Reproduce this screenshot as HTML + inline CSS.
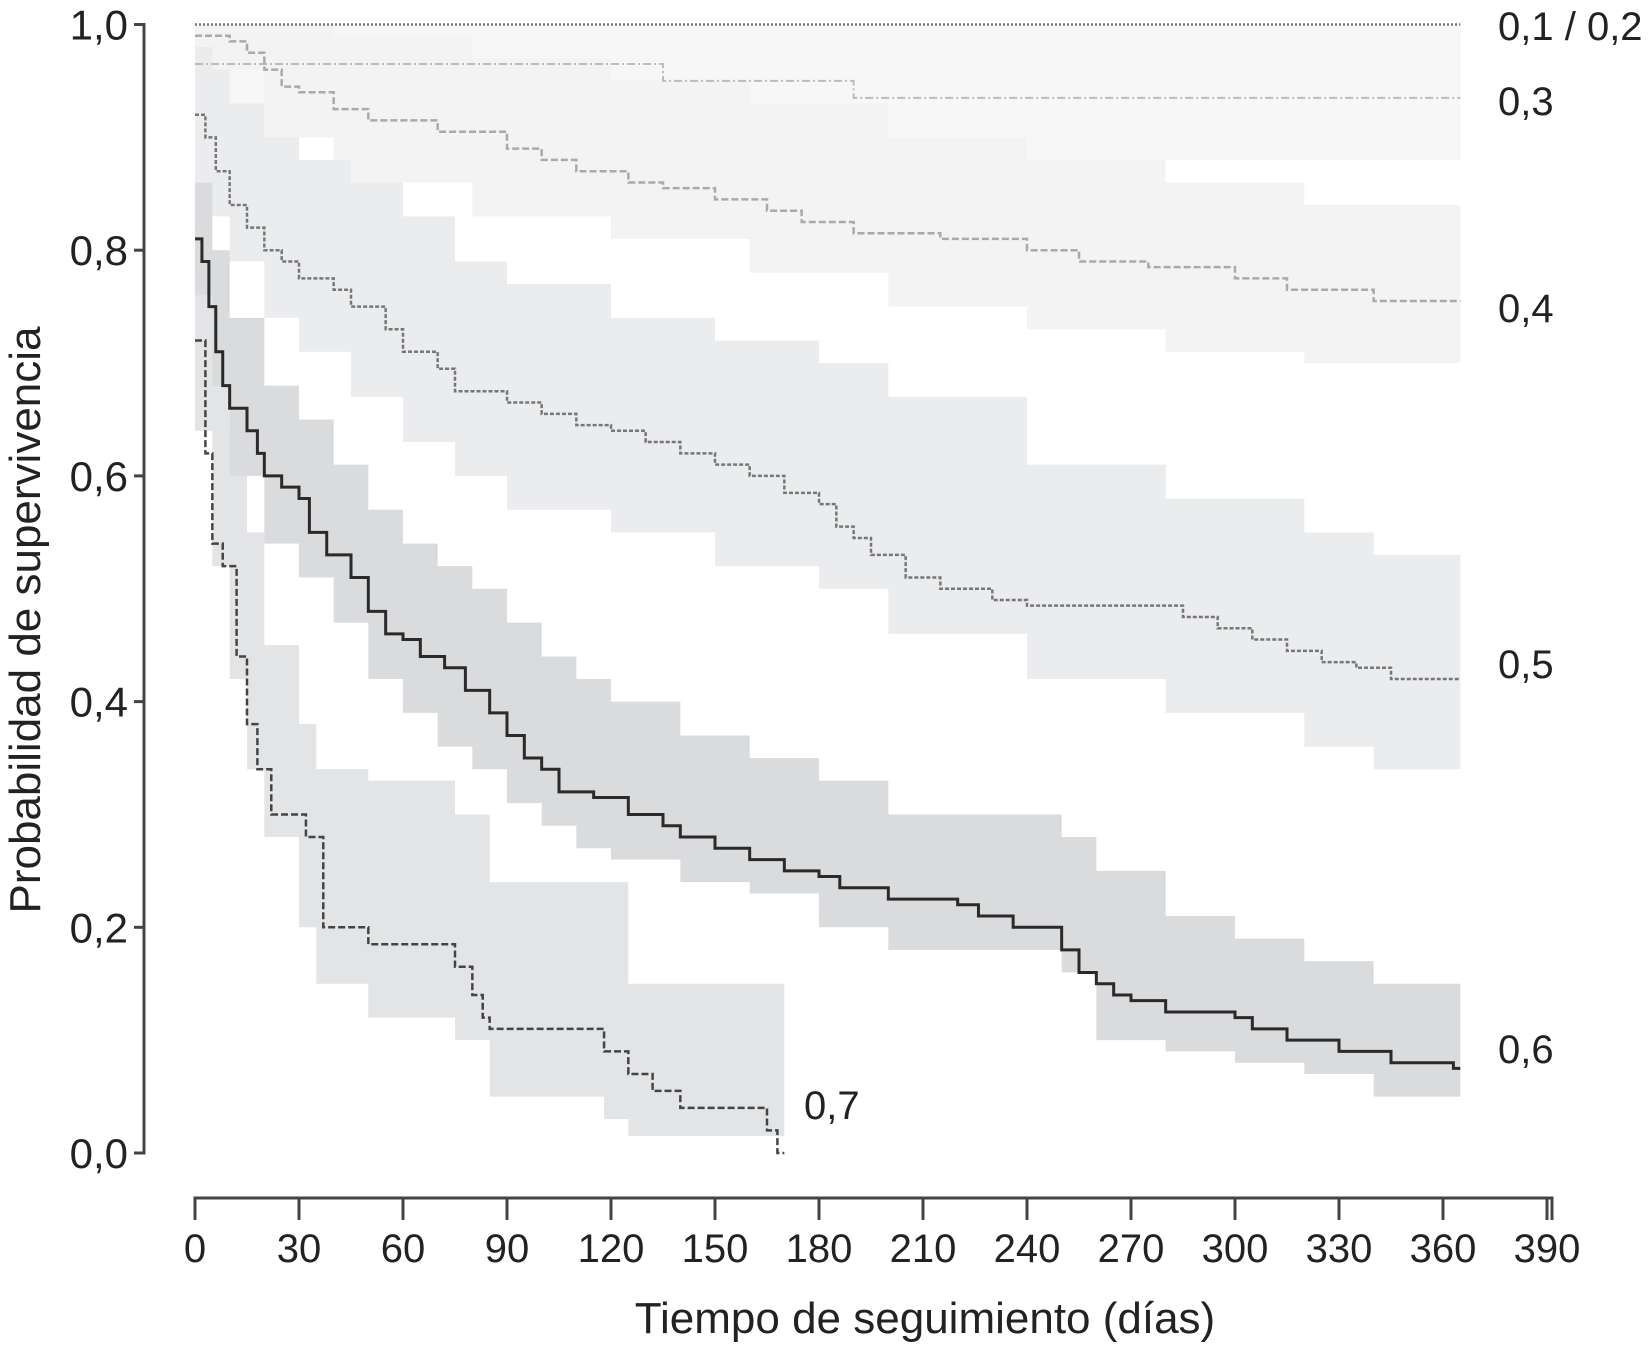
<!DOCTYPE html>
<html><head><meta charset="utf-8"><style>
body{margin:0;background:#fff}
svg{display:block;font-family:"Liberation Sans",sans-serif}
</style></head><body>
<svg id="c" width="1649" height="1349" xmlns="http://www.w3.org/2000/svg"></svg>
<script>
// ---- data ----
const xTicks=[0,30,60,90,120,150,180,210,240,270,300,330,360,390];
const yTicks=[0,0.2,0.4,0.6,0.8,1.0];
const yTickLabels=["0,0","0,2","0,4","0,6","0,8","1,0"];
const t06=[0,2,4,6,8,10,15,18,20,25,30,33,38,45,50,55,60,65,72,78,85,90,95,100,105,115,125,135,140,150,160,170,180,186,200,220,226,236,250,255,260,265,270,280,300,305,315,330,345,363];
const s06=[0.81,0.79,0.75,0.71,0.68,0.66,0.64,0.62,0.60,0.59,0.58,0.55,0.53,0.51,0.48,0.46,0.455,0.44,0.43,0.41,0.39,0.37,0.35,0.34,0.32,0.315,0.30,0.29,0.28,0.27,0.26,0.25,0.245,0.235,0.225,0.22,0.21,0.20,0.18,0.16,0.15,0.14,0.135,0.125,0.12,0.11,0.10,0.09,0.08,0.075];
const bt06=[0,5,10,20,30,40,50,60,70,80,90,100,110,120,140,160,180,200,250,260,280,300,320,340,365];
const up06=[0.86,0.80,0.74,0.68,0.65,0.61,0.57,0.54,0.52,0.50,0.47,0.44,0.42,0.40,0.37,0.35,0.33,0.30,0.28,0.25,0.21,0.19,0.17,0.15,0.145];
const lo06=[0.76,0.68,0.60,0.54,0.51,0.47,0.42,0.39,0.36,0.34,0.31,0.29,0.27,0.26,0.24,0.23,0.20,0.18,0.16,0.10,0.09,0.08,0.07,0.05,0.04];
const t07=[0,3,5,8,12,15,18,22,32,37,50,75,80,83,85,118,125,132,140,165,168];
const s07=[0.72,0.62,0.54,0.52,0.44,0.38,0.34,0.30,0.28,0.20,0.185,0.165,0.14,0.12,0.11,0.09,0.07,0.055,0.04,0.02,0.0];
const bt07=[0,5,10,15,20,30,35,50,75,85,118,125,170];
const up07=[0.80,0.72,0.64,0.55,0.45,0.38,0.34,0.33,0.30,0.24,0.24,0.15,0.15];
const lo07=[0.64,0.52,0.42,0.34,0.28,0.20,0.15,0.12,0.10,0.05,0.03,0.015,0.015];
const t05=[0,3,6,10,15,20,25,30,40,45,55,60,70,75,90,100,110,120,130,140,150,160,170,180,185,190,195,205,215,230,240,285,295,305,315,325,335,345];
const s05=[0.92,0.90,0.87,0.84,0.82,0.80,0.79,0.775,0.765,0.75,0.73,0.71,0.695,0.675,0.665,0.655,0.645,0.64,0.63,0.62,0.61,0.60,0.585,0.575,0.555,0.545,0.53,0.51,0.50,0.49,0.485,0.475,0.465,0.455,0.445,0.435,0.43,0.42];
const bt05=[0,5,10,20,30,45,60,75,90,120,150,180,200,240,280,320,340,365];
const up05=[0.98,0.96,0.93,0.90,0.88,0.86,0.83,0.79,0.77,0.74,0.72,0.70,0.67,0.61,0.58,0.55,0.53,0.53];
const lo05=[0.86,0.83,0.79,0.74,0.71,0.67,0.63,0.60,0.57,0.55,0.52,0.50,0.46,0.42,0.39,0.36,0.34,0.34];
const t04=[0,10,15,20,25,30,40,50,70,90,100,110,125,135,150,165,175,190,215,240,255,275,300,315,340];
const s04=[0.99,0.985,0.975,0.96,0.945,0.94,0.925,0.915,0.905,0.89,0.88,0.87,0.86,0.855,0.845,0.835,0.825,0.815,0.81,0.80,0.79,0.785,0.775,0.765,0.755];
const bt04=[0,20,40,80,120,160,200,240,280,320,365];
const up04=[1.0,1.0,0.99,0.97,0.95,0.93,0.90,0.88,0.86,0.84,0.83];
const lo04=[0.96,0.90,0.86,0.83,0.81,0.78,0.75,0.73,0.71,0.70,0.69];
const t03=[0,135,190];
const s03=[0.965,0.95,0.935];
const up03=[1.0,1.0,1.0];
const lo03=[0.93,0.90,0.88];
// ---- scales ----
const X=d=>195+d*104/30, Y=p=>1153-p*1128.5;
const NS="http://www.w3.org/2000/svg", svg=document.getElementById('c');
function mk(tag,a,parent){const e=document.createElementNS(NS,tag);for(const k in a)e.setAttribute(k,a[k]);(parent||svg).appendChild(e);return e;}
function stepPts(t,s,end){let p=[];for(let i=0;i<t.length;i++){if(i>0)p.push([X(t[i]),Y(s[i-1])]);p.push([X(t[i]),Y(s[i])]);}p.push([X(end),Y(s[s.length-1])]);return p;}
function band(t,u,l,end,fill,name){const a=stepPts(t,u,end),b=stepPts(t,l,end).reverse();
 const e=mk('path',{d:'M'+a.concat(b).map(q=>q.join(',')).join('L')+'Z',fill:fill});
 
 }
function line(t,s,end,st,w,dash,name){const e=mk('path',{d:'M'+stepPts(t,s,end).map(q=>q.join(',')).join('L'),fill:'none',stroke:st,'stroke-width':w,'stroke-dasharray':dash});
 
 }
band(t03,up03,lo03,365,'#f7f7f7','band-0-3');
band(bt04,up04,lo04,365,'#f3f3f4','band-0-4');
band(bt05,up05,lo05,365,'#ebecee','band-0-5');
band(bt07,up07,lo07,170,'#e3e4e6','band-0-7');
band(bt06,up06,lo06,365,'#dadbdd','band-0-6');
line([0],[1.0],365,'#777',2.5,'2,2','line-0-1-0-2');
line(t03,s03,365,'#bbb',2,'8,3,2,3','line-0-3');
line(t04,s04,365,'#aaa',2.5,'7,3','line-0-4');
line(t05,s05,365,'#777',2.5,'4,2','line-0-5');
line(t07,s07,170,'#444',2.5,'7,3','line-0-7');
line(t06,s06,365,'#2a2a2a',3,'none','line-0-6');
// axes
let ya=mk('path',{d:'M134,24.5H144V1153H134',fill:'none',stroke:'#444','stroke-width':3});


yTicks.forEach((v,i)=>{mk('line',{x1:134,x2:144,y1:Y(v),y2:Y(v),stroke:'#444','stroke-width':3});
 const tx=mk('text',{x:128,y:Y(v)+15,'text-anchor':'end','font-size':42,fill:'#222'});tx.textContent=yTickLabels[i];
 
 });
let xa=mk('path',{d:'M195,1220V1198H1552V1220',fill:'none',stroke:'#444','stroke-width':3});


xTicks.forEach(v=>{mk('line',{x1:X(v),x2:X(v),y1:1198,y2:1220,stroke:'#444','stroke-width':3});
 const tx=mk('text',{x:X(v),y:1262,'text-anchor':'middle','font-size':40,fill:'#222'});tx.textContent=v;
 
 });
const labels=[["0,1 / 0,2",1498,40],["0,3",1498,115],["0,4",1498,322],["0,5",1498,678],["0,6",1498,1063],["0,7",804,1119]];
labels.forEach(l=>{const tx=mk('text',{x:l[1],y:l[2],'font-size':40,fill:'#222'});tx.textContent=l[0];
 
 });
let xt=mk('text',{x:925,y:1333,'text-anchor':'middle','font-size':44,fill:'#222'});xt.textContent='Tiempo de seguimiento (días)';


let yt=mk('text',{x:0,y:0,'text-anchor':'middle','font-size':44,fill:'#222',transform:'translate(40,620) rotate(-90)'});yt.textContent='Probabilidad de supervivencia';


</script>
</body></html>
